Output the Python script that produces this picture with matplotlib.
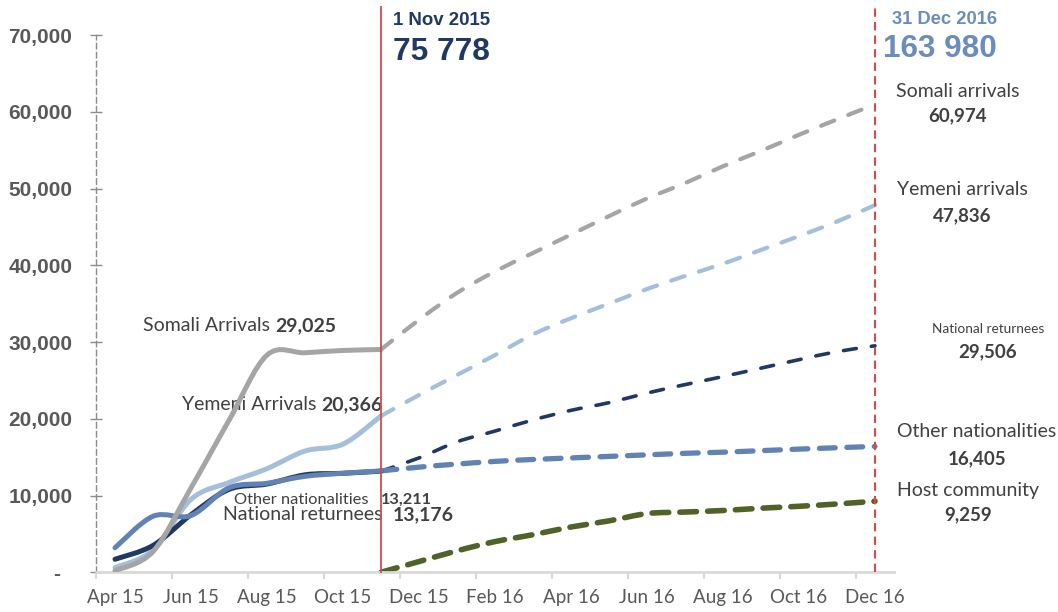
import numpy as np
import matplotlib.pyplot as plt
from matplotlib.path import Path
from matplotlib.patches import PathPatch

# months on the category axis, Apr 15 .. Dec 16
months = ['Apr 15', 'May 15', 'Jun 15', 'Jul 15', 'Aug 15', 'Sep 15', 'Oct 15',
          'Nov 15', 'Dec 15', 'Jan 16', 'Feb 16', 'Mar 16', 'Apr 16', 'May 16',
          'Jun 16', 'Jul 16', 'Aug 16', 'Sep 16', 'Oct 16', 'Nov 16', 'Dec 16']
tick_labels = months[::2]

# actual arrivals Apr 15 - Nov 15
somali_hist = [200, 2700, 11000, 19800, 28300, 28600, 28900, 29025]
yemeni_hist = [600, 2900, 9500, 11700, 13500, 15800, 16700, 20366]
national_hist = [1700, 3500, 7500, 10800, 11500, 12700, 12900, 13176]
other_hist = [3200, 7300, 7400, 11000, 11600, 12500, 12900, 13211]

# projections Nov 15 - Dec 16
somali_proj = [29025, 32900, 36400, 39200, 41600, 44000, 46400, 48700, 50700, 52900, 54900, 57000, 59000, 60974]
yemeni_proj = [20366, 23100, 25700, 28300, 31000, 33100, 35000, 36900, 38600, 40200, 42000, 43800, 45700, 47836]
national_proj = [13176, 14900, 17000, 18400, 19850, 21100, 22100, 23350, 24450, 25500, 26600, 27700, 28750, 29506]
other_proj = [13211, 13700, 14100, 14450, 14700, 14900, 15100, 15300, 15500, 15650, 15850, 16050, 16230, 16405]
host_proj = [0, 1400, 2800, 4000, 4900, 5900, 6700, 7650, 7850, 8050, 8350, 8600, 8900, 9259]

nov_idx = months.index('Nov 15')
dec_idx = months.index('Dec 16')
hist_x = np.arange(0, nov_idx + 1)
proj_x = np.arange(nov_idx, dec_idx + 1)

grey = '#A5A5A5'
light_blue = '#A3BFDA'
navy = '#1F3864'
mid_blue = '#6083B4'
green = '#4F6228'
red = '#D64A4A'
txt = '#404040'


# excel style smoothed line (catmull-rom as bezier)
def smooth_path(xs, ys):
    pts = np.column_stack([xs, ys]).astype(float)
    verts = [pts[0]]
    codes = [Path.MOVETO]
    n = len(pts)
    for i in range(n - 1):
        p0 = pts[i - 1] if i > 0 else pts[i]
        p1 = pts[i]
        p2 = pts[i + 1]
        p3 = pts[i + 2] if i + 2 < n else pts[i + 1]
        verts += [p1 + (p2 - p0) / 6, p2 - (p3 - p1) / 6, p2]
        codes += [Path.CURVE4] * 3
    return Path(verts, codes)


def add_line(ax, xs, ys, color, lw, ls='-', z=2):
    patch = PathPatch(smooth_path(xs, ys), fill=False, edgecolor=color, lw=lw,
                      linestyle=ls, capstyle='round', joinstyle='round', zorder=z)
    ax.add_patch(patch)


fig = plt.figure(figsize=(10.58, 6.12), dpi=100)
ax = fig.add_axes([96 / 1058, 1 - 572.3 / 612, (894 - 96) / 1058, (572.3 - 35) / 612])
ax.set_xlim(-0.5, 20.5)
ax.set_ylim(0, 70000)

# projections
add_line(ax, proj_x, host_proj, green, 4.0, (0, (3.0, 2.0)), 2)
add_line(ax, proj_x, yemeni_proj, light_blue, 3.0, (0, (3.4, 3.6)), 2)
add_line(ax, proj_x, national_proj, navy, 2.6, (0, (3.6, 4.2)), 3)
add_line(ax, proj_x, other_proj, mid_blue, 3.8, (0, (3.0, 2.2)), 3)
add_line(ax, proj_x, somali_proj, grey, 3.0, (0, (3.4, 3.6)), 3)

# actuals
add_line(ax, hist_x, yemeni_hist, light_blue, 3.6, '-', 4)
add_line(ax, hist_x, national_hist, navy, 3.6, '-', 4)
add_line(ax, hist_x, other_hist, mid_blue, 3.6, '-', 5)
add_line(ax, hist_x, somali_hist, grey, 3.6, '-', 5)

# date markers
ax.plot([nov_idx, nov_idx], [0, 73600], color=red, lw=1.3, clip_on=False, zorder=6)
ax.plot([dec_idx, dec_idx], [0, 73900], color=red, lw=1.5, ls=(0, (4, 2.5)),
        clip_on=False, zorder=6)

# axes styling
for s in ['top', 'right']:
    ax.spines[s].set_visible(False)
ax.spines['left'].set_color('#8C8C8C')
ax.spines['left'].set_linewidth(1)
ax.spines['left'].set_linestyle((0, (4, 2.5)))
ax.spines['bottom'].set_color('#D9D9D9')
ax.spines['bottom'].set_linewidth(2)

yt = list(range(0, 70001, 10000))
ax.set_yticks(yt)
ax.set_yticklabels(['-  ' if v == 0 else f'{v:,}' for v in yt],
                   fontfamily='Liberation Sans', fontweight='bold')
ax.tick_params(axis='y', direction='inout', length=8, width=1, color='#8C8C8C',
               pad=13, labelsize=15, labelcolor='#595959')

ax.set_xticks(np.arange(-0.5, 20, 2))
ax.set_xticklabels([])
ax.set_xticks(np.arange(0, 21, 2), minor=True)
ax.set_xticklabels(tick_labels, minor=True, fontfamily='Lato')
ax.tick_params(axis='x', which='major', direction='out', length=5, width=1.5,
               color='#D9D9D9')
ax.tick_params(axis='x', which='minor', length=0, pad=12, labelsize=13.5,
               labelcolor='#595959')

# headline numbers
ax.text(7.32, 71900, '1 Nov 2015', color=navy, fontsize=13.4, fontweight='bold',
        family='Liberation Sans', va='center', ha='left')
ax.text(7.32, 67800, '75 778', color=navy, fontsize=22.8, fontweight='bold',
        family='Liberation Sans', va='center', ha='left')
ax.text(20.45, 72000, '31 Dec 2016', color='#6A8DBE', fontsize=13.2, fontweight='bold',
        family='Liberation Sans', va='center', ha='left')
ax.text(20.21, 68200, '163 980', color='#6A8DBE', fontsize=22.7, fontweight='bold',
        family='Liberation Sans', va='center', ha='left')

# right hand projection labels
right_labels = [
    (22.17, 62700, 59500, 'Somali arrivals', '60,974', 14),
    (22.3, 49860, 46470, 'Yemeni arrivals', '47,836', 14),
    (22.97, 31760, 28760, 'National returnees', '29,506', 9.8),
    (22.68, 18300, 14840, 'Other nationalities', '16,405', 14),
    (22.45, 10600, 7470, 'Host community', '9,259', 14),
]
for x, y1, y2, name, val, fs in right_labels:
    ax.text(x, y1, name, color=txt, fontsize=fs, family='Lato', ha='center', va='center')
    ax.text(x, y2, val, color=txt, fontsize=13.5, family='Lato', fontweight='bold',
            ha='center', va='center')

# left labels for the actual figures
left_labels = [
    (0.737, 32130, 'Somali Arrivals ', '29,025', 14),
    (1.76, 21820, 'Yemeni Arrivals ', '20,366', 14),
    (3.13, 9430, 'Other nationalities   ', '13,211', 11.8),
    (2.84, 7470, 'National returnees  ', '13,176', 14),
]
for x, y, name, val, fs in left_labels:
    t = ax.text(x, y, name, color=txt, fontsize=fs, family='Lato', ha='left', va='center')
    ax.annotate(val, xy=(1, 0), xycoords=t, ha='left', va='bottom', color=txt,
                fontsize=fs, family='Lato', fontweight='bold')

fig.savefig('out.png', dpi=100)
